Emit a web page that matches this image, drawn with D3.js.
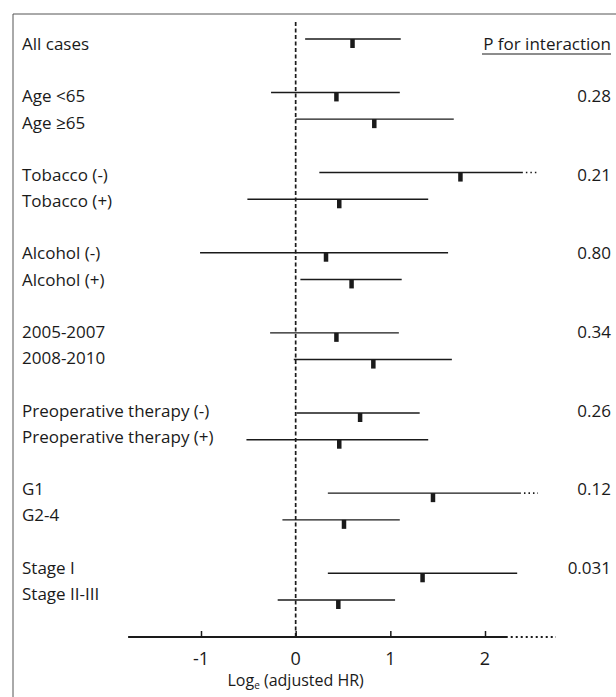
<!DOCTYPE html>
<html>
<head>
<meta charset="utf-8">
<script src="https://cdn.jsdelivr.net/npm/d3@7/dist/d3.min.js"></script>
<style>
html,body{margin:0;padding:0;background:#fff;}
svg{display:block;}
text{font-family:"Open Sans",sans-serif;fill:#1a1a1a;}
</style>
</head>
<body>
<svg id="chart" width="616" height="697"></svg>
<script>
// ---- data ----
const labels = ["All cases","Age <65","Age \u226565","Tobacco (-)","Tobacco (+)","Alcohol (-)","Alcohol (+)",
  "2005-2007","2008-2010","Preoperative therapy (-)","Preoperative therapy (+)","G1","G2-4","Stage I","Stage II-III"];
const slots = [0,2,3,5,6,8,9,11,12,14,15,17,18,20,21];
const estimates = [0.60,0.43,0.83,1.74,0.46,0.32,0.59,0.43,0.82,0.68,0.46,1.45,0.51,1.34,0.45];
const lower = [0.10,-0.26,0.00,0.25,-0.51,-1.01,0.05,-0.27,-0.02,0.01,-0.52,0.34,-0.14,0.34,-0.19];
const upper = [1.11,1.10,1.67,2.40,1.40,1.61,1.12,1.09,1.65,1.31,1.40,2.38,1.10,2.34,1.05];
const truncated = [false,false,false,true,false,false,false,false,false,false,false,true,false,false,false];
const pValues = ["","0.28","","0.21","","0.80","","0.34","","0.26","","0.12","","0.031",""];
const pHeader = "P for interaction";
const xTicks = [-1,0,1,2];
const xTickLabels = ["-1","0","1","2"];
const xTitle = "Log";
const xTitleSub = "e";
const xTitleRest = " (adjusted HR)";
const axisDomain = [-1.77, 2.24];
const axisDotted = 2.75;
const extDotted = 2.56;

// ---- layout ----
const svg = d3.select("#chart");
const x = d3.scaleLinear().domain([-1,2]).range([201,485]);
const yMark = d3.scaleLinear().domain([0,21]).range([39,600]);
const yText = d3.scaleLinear().domain([0,21]).range([44,594]);
const axisY = 637;
const ink = "#1a1a1a";
const fs = "17px";

// frame
svg.append("line").attr("x1",13).attr("x2",13).attr("y1",14).attr("y2",697)
  .attr("stroke","#555").attr("stroke-width",1);
svg.append("line").attr("x1",13).attr("x2",616).attr("y1",14).attr("y2",14)
  .attr("stroke","#555").attr("stroke-width",1);

// zero reference line
svg.append("line").attr("x1",x(0)).attr("x2",x(0)).attr("y1",22).attr("y2",axisY)
  .attr("stroke",ink).attr("stroke-width",1.7).attr("stroke-dasharray","4,2.5");

// axis
const axisG = svg.append("g").attr("transform",`translate(0,${axisY})`);
axisG.append("line").attr("x1",x(axisDomain[0])).attr("x2",x(axisDomain[1]))
  .attr("stroke",ink).attr("stroke-width",2);
axisG.append("line").attr("x1",x(axisDomain[1])+3).attr("x2",x(axisDotted))
  .attr("stroke",ink).attr("stroke-width",2).attr("stroke-dasharray","2,3");
const xAxis = d3.axisTop(x).tickValues(xTicks).tickSize(6).tickFormat("");
const ag = axisG.append("g").call(xAxis);
ag.select(".domain").remove();
ag.selectAll(".tick line").attr("stroke",ink).attr("stroke-width",1.5);
axisG.selectAll("text.tl").data(xTicks).join("text").attr("class","tl")
  .attr("x",(d)=>x(d)).attr("y",28).attr("text-anchor","middle")
  .style("font-size","18px").text((d,i)=>xTickLabels[i]);
const title = axisG.append("text").attr("x",x(0)).attr("y",49).attr("text-anchor","middle")
  .style("font-size","16px");
title.append("tspan").text(xTitle);
title.append("tspan").attr("dy",3).style("font-size","10px").text(xTitleSub);
title.append("tspan").attr("dy",-3).text(xTitleRest);

// rows
const rows = labels.map((l,i)=>({label:l,slot:slots[i],est:estimates[i],lo:lower[i],hi:upper[i],trunc:truncated[i],p:pValues[i]}));

svg.selectAll("text.lab").data(rows).join("text").attr("class","lab")
  .attr("x",22).attr("y",d=>yText(d.slot)).attr("dy","0.35em")
  .style("font-size",fs).text(d=>d.label);

svg.selectAll("line.ci").data(rows).join("line").attr("class","ci")
  .attr("x1",d=>x(d.lo)).attr("x2",d=>x(d.hi))
  .attr("y1",d=>yMark(d.slot)).attr("y2",d=>yMark(d.slot))
  .attr("stroke",ink).attr("stroke-width",1.4);

svg.selectAll("line.ext").data(rows.filter(d=>d.trunc)).join("line").attr("class","ext")
  .attr("x1",d=>x(d.hi)+3).attr("x2",x(extDotted))
  .attr("y1",d=>yMark(d.slot)).attr("y2",d=>yMark(d.slot))
  .attr("stroke",ink).attr("stroke-width",1.6).attr("stroke-dasharray","1.5,3");

svg.selectAll("rect.pt").data(rows).join("rect").attr("class","pt")
  .attr("x",d=>x(d.est)-2.2).attr("y",d=>yMark(d.slot))
  .attr("width",4.5).attr("height",9).attr("fill",ink);

// p values
svg.append("text").attr("x",611).attr("y",yText(0)).attr("dy","0.35em")
  .attr("text-anchor","end").style("font-size",fs).text(pHeader);
svg.append("line").attr("x1",482).attr("x2",611).attr("y1",yText(0)+10).attr("y2",yText(0)+10)
  .attr("stroke",ink).attr("stroke-width",1);
svg.selectAll("text.pv").data(rows.filter(d=>d.p)).join("text").attr("class","pv")
  .attr("x",611).attr("y",d=>yText(d.slot)).attr("dy","0.35em")
  .attr("text-anchor","end").style("font-size",fs).text(d=>d.p);
</script>
</body>
</html>
